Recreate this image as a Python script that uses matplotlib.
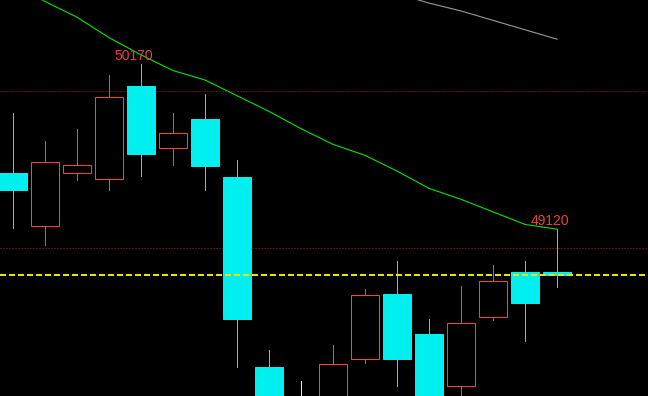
import numpy as np
import matplotlib.pyplot as plt
from matplotlib.patches import Rectangle

# K线数据 (开, 高, 低, 收)
opens = [49480, 49140, 49480, 49440, 50030, 49640, 49820, 49450, 48240,
         47950, 47900, 48290, 48710, 48450, 48120, 48560, 48850, 48850]
highs = [49860, 49680, 49760, 50100, 50170, 49860, 49980, 49560, 48350,
         48150, 48380, 48740, 48920, 48550, 48760, 48890, 48920, 49120]
lows = [49130, 49020, 49430, 49370, 49460, 49530, 49370, 48240, 47850,
        47880, 47850, 48270, 48120, 47900, 47990, 48540, 48410, 48750]
closes = [49370, 49550, 49530, 49960, 49600, 49730, 49520, 48550, 47970,
          47950, 48260, 48700, 48290, 47980, 48520, 48790, 48650, 48830]

# 均线
ma_green = [50690, 50570, 50470, 50340, 50230, 50130, 50070, 49970, 49870,
            49760, 49660, 49590, 49490, 49380, 49310, 49230, 49150, 49120]
ma_gray = [np.nan] * 12 + [50620, 50560, 50510, 50450, 50390, 50330]

grid_levels = [50000, 49000]
marked = [(4, '50170'), (17, '49120')]

UP = '#ff4040'
DOWN = '#00f0f0'
DOJI = '#e8e8e8'

plt.rcParams['lines.scale_dashes'] = False

fig = plt.figure(figsize=(6.48, 3.96), dpi=100, facecolor='black')
ax = fig.add_axes([0, 0, 1, 1])
ax.set_facecolor('black')

# 虚线网格
for lvl in grid_levels:
    ax.axhline(lvl, color='#b02020', linewidth=0.75, linestyle=(0, (0.72, 1.44)), zorder=1)

# 最新价
ax.axhline(closes[-1], color='#e6e600', linewidth=1.1, linestyle=(0, (3.6, 2.16)),
           antialiased=False, zorder=5)

w = 0.875
for i, (o, h, l, c) in enumerate(zip(opens, highs, lows, closes)):
    if c > o:
        col = UP
    elif c < o:
        col = DOWN
    else:
        col = DOJI
    ax.plot([i, i], [l, h], color=col, linewidth=0.72, snap=True, zorder=2)
    lo, hi = min(o, c), max(o, c)
    if col == UP:
        ax.add_patch(Rectangle((i - w / 2, lo), w, hi - lo, facecolor='black',
                               edgecolor=col, linewidth=0.72, snap=True, zorder=3))
    else:
        ax.add_patch(Rectangle((i - w / 2, lo), w, max(hi - lo, 1), facecolor=col,
                               edgecolor=col, linewidth=0.72, snap=True, zorder=3))

x = np.arange(len(closes))
ax.plot(x, ma_green, color='#00e600', linewidth=0.8, zorder=4)
ax.plot(x, ma_gray, color='#9a9a9a', linewidth=0.8, zorder=4)

for i, txt in marked:
    ax.annotate(txt, (i, highs[i]), xytext=(-7, 4), textcoords='offset pixels',
                ha='center', va='baseline', color='#e84040', fontsize=10,
                family='Liberation Sans', zorder=6)

ax.set_xlim(-13 / 32, (648 - 13) / 32)
ax.set_ylim(50000 - 305 * 1000 / 157, 50000 + 91 * 1000 / 157)
ax.axis('off')

plt.savefig('out.png', dpi=100, facecolor='black')
